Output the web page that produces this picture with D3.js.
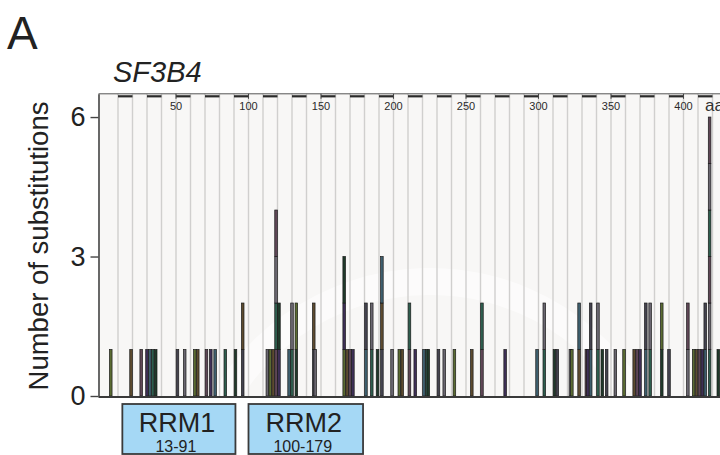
<!DOCTYPE html>
<html>
<head>
<meta charset="utf-8">
<script src="https://cdn.jsdelivr.net/npm/d3@7"></script>
<style>
  body { margin: 0; background: #fff; }
  svg { display: block; font-family: "Liberation Sans", Arial, sans-serif; }
</style>
</head>
<body>
<div id="chart"></div>
<script>
// residue positions (aa) and number of substitutions at each
const positions = [5, 19, 26, 30, 32, 34, 36, 51, 56, 63, 65, 71, 74, 77, 84, 91, 96,
  113, 115, 117, 119, 121, 128, 130, 133, 145, 146, 166, 168, 170, 172, 181, 185, 189,
  192, 199, 204, 206, 211, 215, 221, 223, 224, 231, 235, 242, 254, 261, 277, 299, 304,
  311, 313, 322, 323, 328, 333, 334, 336, 341, 344, 347, 353, 359, 366, 368, 370, 374,
  377, 385, 390, 403, 407, 409, 411, 413, 415, 418, 424];
const counts = [1, 1, 1, 1, 1, 1, 1, 1, 1, 1, 1, 1, 1, 1, 1, 1, 2,
  1, 1, 1, 4, 2, 1, 2, 2, 2, 1, 3, 1, 1, 1, 2, 2, 1,
  3, 1, 1, 1, 2, 1, 1, 1, 1, 1, 1, 1, 1, 2, 1, 1, 2,
  1, 1, 1, 1, 2, 1, 1, 2, 2, 1, 1, 1, 1, 1, 1, 1, 2,
  2, 2, 1, 2, 1, 1, 1, 1, 2, 6, 1];

const domainNames = ["RRM1", "RRM2"];
const domainStart = [13, 100];
const domainEnd = [91, 179];

const yTicks = [0, 3, 6];
const topTicks = [50, 100, 150, 200, 250, 300, 350, 400];

const segColours = ["#5a6b32", "#44434f", "#2e5e4e", "#3e2f57", "#5d4b2f",
  "#6a6670", "#1f3a2a", "#3e5f6e", "#5f4656"];

const W = 720, H = 455;
const font = "'Liberation Sans', Arial, sans-serif";

const svg = d3.select("#chart").append("svg").attr("width", W).attr("height", H);

const x = d3.scaleLinear().domain([0, 440]).range([103.5, 103.5 + 440 * 1.45]);
const y = d3.scaleLinear().domain([0, 6.5]).range([396, 93.8]);

const left = 98.5, right = x(440);

// panel
svg.append("rect")
  .attr("x", left).attr("y", y(6.5))
  .attr("width", right - left).attr("height", y(0) - y(6.5))
  .attr("fill", "#f8f7f6");

// faint arc
svg.append("path")
  .attr("d", d3.arc()({ innerRadius: 225, outerRadius: 252, startAngle: -1.35, endAngle: 1.0 }))
  .attr("transform", `translate(430,520)`)
  .attr("fill", "#ffffff")
  .attr("opacity", 0.55);

// grid lines every 10 aa
svg.append("g").selectAll("line")
  .data(d3.range(10, 440, 10))
  .enter().append("line")
  .attr("x1", d => x(d)).attr("x2", d => x(d))
  .attr("y1", y(6.5)).attr("y2", y(0))
  .attr("stroke", "#d0cfce").attr("stroke-width", 1.4);

// alternating dark dashes along the top
svg.append("g").selectAll("line")
  .data(d3.range(10, 440, 20))
  .enter().append("line")
  .attr("x1", d => x(d)).attr("x2", d => x(d + 10))
  .attr("y1", y(6.5) + 2.5).attr("y2", y(6.5) + 2.5)
  .attr("stroke", "#2a2a2a").attr("stroke-width", 2.2);

// top frame
svg.append("line")
  .attr("x1", left).attr("x2", right)
  .attr("y1", y(6.5)).attr("y2", y(6.5))
  .attr("stroke", "#555").attr("stroke-width", 1);

// top tick marks and labels
svg.append("g").selectAll("line")
  .data(topTicks)
  .enter().append("line")
  .attr("x1", d => x(d)).attr("x2", d => x(d))
  .attr("y1", y(6.5)).attr("y2", y(6.5) + 5)
  .attr("stroke", "#444").attr("stroke-width", 1);

svg.append("g").selectAll("text")
  .data(topTicks)
  .enter().append("text")
  .attr("x", d => x(d))
  .attr("y", 110)
  .attr("text-anchor", "middle")
  .style("font-size", "11px")
  .style("fill", "#2a2a2a")
  .text(d => d);

svg.append("text")
  .attr("x", 705).attr("y", 111)
  .style("font-size", "17px")
  .style("fill", "#333")
  .text("aa");

// stacked bars, one unit per segment
const segs = [];
positions.forEach((p, i) => {
  for (let j = 0; j < counts[i]; j++) {
    segs.push({ pos: p, level: j, colour: segColours[(i * 4 + j * 3) % segColours.length] });
  }
});

svg.append("g").selectAll("rect")
  .data(segs)
  .enter().append("rect")
  .attr("x", d => x(d.pos) - 1.3)
  .attr("y", d => y(d.level + 1))
  .attr("width", 2.6)
  .attr("height", d => y(d.level) - y(d.level + 1))
  .attr("fill", d => d.colour)
  .attr("stroke", "#1b1b1b")
  .attr("stroke-width", 0.7);

// bottom axis line
svg.append("line")
  .attr("x1", left).attr("x2", right)
  .attr("y1", 397).attr("y2", 397)
  .attr("stroke", "#3a3a3a").attr("stroke-width", 2);

// y axis
const yAxis = svg.append("g")
  .attr("transform", `translate(${left},0)`)
  .call(d3.axisLeft(y).tickValues(yTicks).tickSize(8).tickSizeOuter(0).tickPadding(5).tickFormat(d3.format("d")));

yAxis.select(".domain").attr("stroke", "#444").attr("stroke-width", 1.6);
yAxis.selectAll(".tick line").attr("stroke", "#444").attr("stroke-width", 1.4);
yAxis.selectAll(".tick text")
  .style("font-family", font)
  .style("font-size", "27px")
  .style("fill", "#222");

svg.append("text")
  .attr("transform", "translate(48,246) rotate(-90)")
  .attr("text-anchor", "middle")
  .style("font-size", "27.5px")
  .style("fill", "#222")
  .text("Number of substitutions");

// title and panel letter
svg.append("text")
  .attr("x", 113).attr("y", 82)
  .style("font-size", "29px")
  .style("font-style", "italic")
  .style("fill", "#222")
  .text("SF3B4");

svg.append("text")
  .attr("x", 7).attr("y", 49)
  .style("font-size", "46px")
  .style("fill", "#222")
  .text("A");

// protein domains
const dom = svg.append("g").selectAll("g")
  .data(domainNames)
  .enter().append("g");

dom.append("rect")
  .attr("x", (d, i) => x(domainStart[i]))
  .attr("y", 404)
  .attr("width", (d, i) => x(domainEnd[i]) - x(domainStart[i]))
  .attr("height", 50)
  .attr("fill", "#a5d8f5")
  .attr("stroke", "#3a3a3a")
  .attr("stroke-width", 1.8);

dom.append("text")
  .attr("x", (d, i) => (x(domainStart[i]) + x(domainEnd[i])) / 2 - 2)
  .attr("y", 432)
  .attr("text-anchor", "middle")
  .style("font-size", "27px")
  .style("fill", "#222")
  .text(d => d);

dom.append("text")
  .attr("x", (d, i) => (x(domainStart[i]) + x(domainEnd[i])) / 2 - 3)
  .attr("y", 452)
  .attr("text-anchor", "middle")
  .style("font-size", "16px")
  .style("fill", "#222")
  .text((d, i) => `${domainStart[i]}-${domainEnd[i]}`);
</script>
</body>
</html>
